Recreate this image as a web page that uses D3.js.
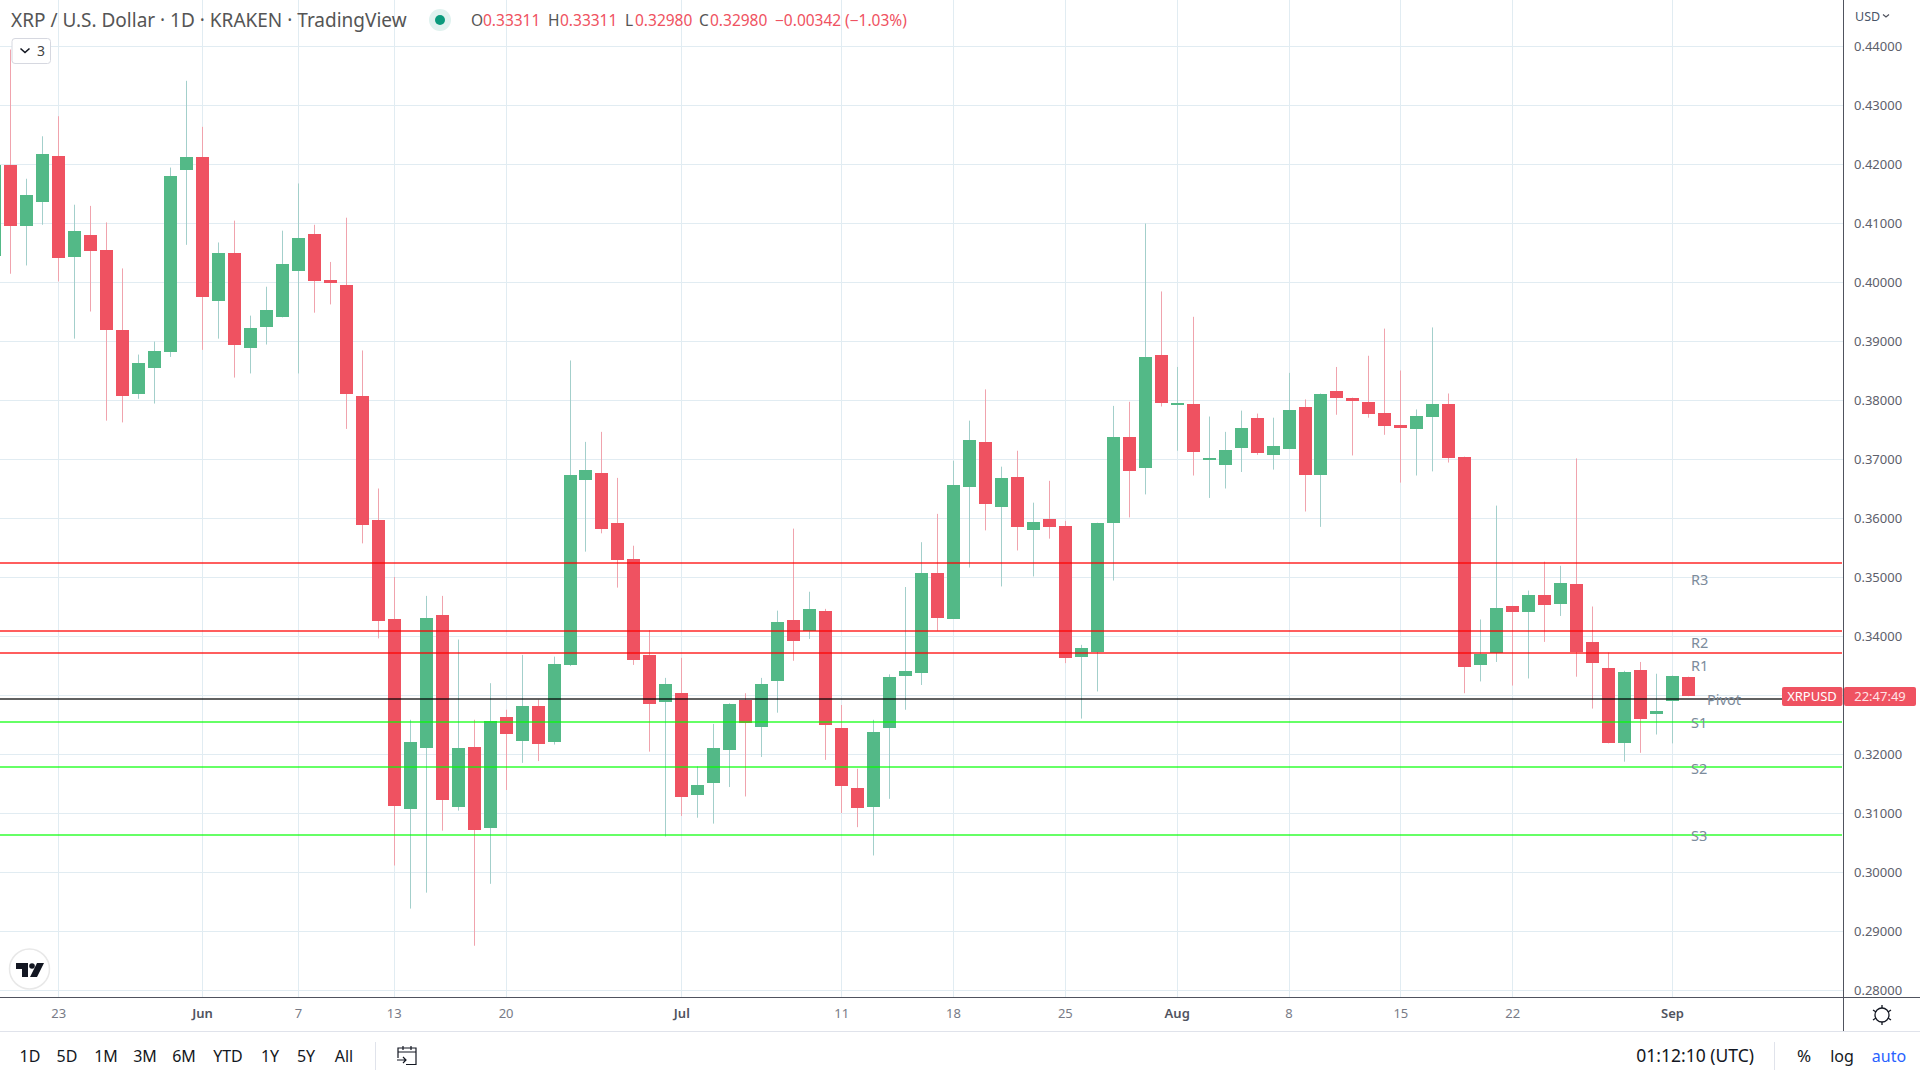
<!DOCTYPE html>
<html>
<head>
<meta charset="utf-8">
<script src="https://cdn.jsdelivr.net/npm/d3@7"></script>
<style>
  body { margin: 0; background: #fff; }
  text { font-family: "Noto Sans", sans-serif; }
</style>
</head>
<body>
<svg width="1920" height="1080"></svg>
<script>
// daily candles, first one is 19 May 2022
const firstDay = "2022-05-19";
const opens = [.4046,.4199,.4095,.4138,.4214,.4043,.4080,.4055,.3919,.3811,.3856,.3882,.4190,
  .4212,.3970,.4050,.3890,.3923,.3940,.4019,.4082,.4004,.3995,.3807,.3597,.3429,.3107,.3211,.3436,.3110,.3212,.3075,.3263,.3224,.3283,.3221,.3351,.3665,.3677,.3592,.3532,.3368,.3288,
  .3305,.3132,.3151,.3209,.3292,.3248,.3324,.3428,.3409,.3443,.3245,.3144,.3110,.3245,.3332,.3339,.3507,.3429,.3653,.3729,.3619,.3670,.3580,.3599,.3587,.3365,.3373,.3592,.3738,.3684,.3877,
  .3792,.3794,.3699,.3690,.3719,.3770,.3709,.3718,.3789,.3673,.3816,.3804,.3797,.3779,.3758,.3751,.3772,.3794,.3704,.3353,.3371,.3451,.3440,.3470,.3455,.3489,.3390,.3346,.3221,.3343,.3267,
  .3289,.33311];
const highs = [.4230,.4394,.4175,.4247,.4281,.4131,.4129,.4101,.4023,.3877,.3899,.4194,.4341,
  .4263,.4067,.4104,.3943,.3992,.4087,.4167,.4097,.4034,.4109,.3884,.3650,.3500,.3258,.3468,.3468,.3394,.3258,.3320,.3275,.3368,.3292,.3365,.3867,.3729,.3746,.3668,.3553,.3410,.3329,
  .3363,.3179,.3251,.3286,.3303,.3329,.3443,.3582,.3475,.3446,.3283,.3175,.3258,.3335,.3483,.3559,.3607,.3697,.3765,.3818,.3687,.3714,.3626,.3663,.3595,.3385,.3592,.3790,.3797,.4099,.3984,
  .3856,.3941,.3772,.3746,.3782,.3777,.3770,.3846,.3801,.3811,.3856,.3804,.3875,.3921,.3850,.3784,.3923,.3811,.3704,.3428,.3621,.3451,.3477,.3526,.3519,.3701,.3450,.3372,.3341,.3356,.3336,
  .3333,.33311];
const lows = [.3990,.4014,.4028,.4097,.4001,.3904,.3950,.3765,.3762,.3802,.3794,.3873,.4063,
  .3885,.3904,.3838,.3845,.3894,.3940,.3845,.3948,.3962,.3751,.3557,.3396,.3011,.2938,.2965,.3070,.3104,.2875,.2980,.3139,.3185,.3188,.3216,.3349,.3543,.3574,.3482,.3351,.3204,.3060,
  .3095,.3092,.3082,.3144,.3128,.3195,.3270,.3358,.3395,.3190,.3100,.3076,.3028,.3124,.3275,.3317,.3409,.3429,.3516,.3579,.3484,.3545,.3501,.3565,.3354,.3260,.3306,.3494,.3601,.3640,.3789,
  .3714,.3672,.3634,.3650,.3678,.3707,.3682,.3718,.3611,.3585,.3775,.3706,.3770,.3741,.3660,.3672,.3679,.3694,.3303,.3323,.3356,.3316,.3328,.3390,.3434,.3331,.3277,.3218,.3187,.3202,.3233,
  .3218,.32980];
const closes = [.4200,.4095,.4148,.4218,.4040,.4087,.4053,.3919,.3806,.3863,.3884,.4180,.4212,
  .3975,.4050,.3895,.3923,.3953,.4031,.4075,.4001,.3999,.3811,.3588,.3426,.3112,.3221,.3431,.3122,.3211,.3071,.3256,.3234,.3283,.3219,.3353,.3673,.3682,.3582,.3529,.3361,.3285,.3319,
  .3129,.3149,.3211,.3286,.3253,.3320,.3424,.3394,.3446,.3250,.3148,.3110,.3238,.3332,.3341,.3508,.3431,.3656,.3733,.3623,.3668,.3584,.3594,.3584,.3362,.3380,.3592,.3738,.3679,.3873,.3795,
  .3795,.3712,.3702,.3716,.3753,.3711,.3723,.3784,.3675,.3811,.3804,.3799,.3777,.3757,.3753,.3773,.3794,.3702,.3347,.3371,.3448,.3440,.3470,.3453,.3490,.3375,.3355,.3218,.3340,.3260,.3273,
  .3333,.32980];

const priceTicks = [.28,.29,.30,.31,.32,.33,.34,.35,.36,.37,.38,.39,.40,.41,.42,.43,.44];
const dateTicks = ["2022-05-23","2022-06-01","2022-06-07","2022-06-13","2022-06-20","2022-07-01","2022-07-11","2022-07-18","2022-07-25","2022-08-01","2022-08-08","2022-08-15","2022-08-22","2022-09-01"];

const pivotNames = ["R3","R2","R1","Pivot","S1","S2","S3"];
const pivotLevels = [.3525,.3409,.3372,.3294,.3255,.3179,.3063];

const legendLabels = ["O","H","L","C"];
const legendValues = ["0.33311","0.33311","0.32980","0.32980"];
const ranges = ["1D","5D","1M","3M","6M","YTD","1Y","5Y","All"];

const red = "#ef5261", green = "#53b987";
const svg = d3.select("svg");
const width = 1920, plotRight = 1843, plotBottom = 997;

const parse = d3.utcParse("%Y-%m-%d");
const x = d3.scaleUtc()
    .domain([parse("2022-06-01"), parse("2022-09-01")])
    .range([202, 1672]);
const y = d3.scaleLinear()
    .domain([.28, .44])
    .range([990, 46]);

// grid
svg.append("g").selectAll("line").data(dateTicks).enter().append("line")
    .attr("x1", d => Math.round(x(parse(d))) + .5)
    .attr("x2", d => Math.round(x(parse(d))) + .5)
    .attr("y1", 0).attr("y2", plotBottom)
    .attr("stroke", "#e1ecf2");
svg.append("g").selectAll("line").data(priceTicks).enter().append("line")
    .attr("x1", 0).attr("x2", plotRight)
    .attr("y1", d => Math.round(y(d)) + .5)
    .attr("y2", d => Math.round(y(d)) + .5)
    .attr("stroke", "#e1ecf2");

// candles
const candles = opens.map((o, i) => ({
    date: d3.utcDay.offset(parse(firstDay), i),
    open: o, high: highs[i], low: lows[i], close: closes[i]
}));
const up = d => d.close >= d.open;
const cx = d => Math.round(x(d.date));

svg.append("g").selectAll("line").data(candles).enter().append("line")
    .attr("x1", d => cx(d) + .5)
    .attr("x2", d => cx(d) + .5)
    .attr("y1", d => y(d.high))
    .attr("y2", d => y(d.low))
    .attr("stroke", d => up(d) ? "#a3cfcb" : "#f0a3ad");

svg.append("g").selectAll("rect").data(candles).enter().append("rect")
    .attr("x", d => cx(d) - 6)
    .attr("width", 13)
    .attr("y", d => Math.round(y(Math.max(d.open, d.close)) + .5))
    .attr("height", d => Math.max(2, Math.round(y(Math.min(d.open, d.close))) - Math.round(y(Math.max(d.open, d.close)))))
    .attr("fill", d => up(d) ? green : red);

// pivot lines
const lineColor = name => name == "Pivot" ? "rgba(0,0,0,.62)" : (name[0] == "R" ? "rgba(255,0,0,.63)" : "rgba(0,255,0,.6)");
const levelY = i => Math.round(y(pivotLevels[i]) + .5);
svg.append("g").selectAll("line").data(pivotNames).enter().append("line")
    .attr("x1", 0).attr("x2", plotRight - 1)
    .attr("y1", (d, i) => levelY(i))
    .attr("y2", (d, i) => levelY(i))
    .attr("stroke", lineColor)
    .attr("stroke-width", 2);

const labelShift = { R3: 17, R2: 12, R1: 13, Pivot: 1, S1: 1, S2: 2, S3: 1 };
svg.append("g").selectAll("text").data(pivotNames).enter().append("text")
    .attr("x", d => d == "Pivot" ? 1707 : 1691)
    .attr("y", (d, i) => levelY(i) + labelShift[d])
    .attr("dy", ".35em")
    .attr("font-size", 14.5)
    .attr("fill", "#7c8b9b")
    .text(d => d);

// axes
const yAxis = d3.axisRight(y).tickValues(priceTicks).tickSize(0).tickPadding(11).tickFormat(d3.format(".5f"));
const yg = svg.append("g").attr("transform", "translate(" + plotRight + ",0)").call(yAxis);
yg.select(".domain").remove();
yg.selectAll("text").attr("font-size", 13).attr("fill", "#5d606b").attr("font-family", '"Noto Sans", sans-serif');

const isMonth = d => d.getUTCDate() == 1;
const xAxis = d3.axisBottom(x).tickValues(dateTicks.map(parse)).tickSize(0).tickPadding(12)
    .tickFormat(d => isMonth(d) ? d3.utcFormat("%b")(d) : d3.utcFormat("%-d")(d));
const xg = svg.append("g").attr("transform", "translate(0," + plotBottom + ")").call(xAxis);
xg.select(".domain").remove();
xg.selectAll("text")
    .attr("font-size", 13)
    .attr("font-family", '"Noto Sans", sans-serif')
    .attr("font-weight", d => isMonth(d) ? 600 : 400)
    .attr("fill", d => isMonth(d) ? "#50535e" : "#787b86");

svg.append("line").attr("x1", 0).attr("x2", width).attr("y1", plotBottom + .5).attr("y2", plotBottom + .5).attr("stroke", "#50535e");
svg.append("line").attr("x1", plotRight + .5).attr("x2", plotRight + .5).attr("y1", 0).attr("y2", 1031).attr("stroke", "#50535e");
svg.append("line").attr("x1", 0).attr("x2", width).attr("y1", 1031.5).attr("y2", 1031.5).attr("stroke", "#e0e3eb");

// last price tags
const tagY = 687, tagH = 19;
svg.append("rect").attr("x", 1782).attr("y", tagY).attr("width", 60.5).attr("height", tagH).attr("rx", 2).attr("fill", red);
svg.append("rect").attr("x", 1844).attr("y", tagY).attr("width", 72).attr("height", tagH).attr("rx", 2).attr("fill", red);
svg.append("text").attr("x", 1812).attr("y", tagY + tagH / 2).attr("dy", ".35em").attr("text-anchor", "middle")
    .attr("font-size", 13).attr("fill", "#fff").text("XRPUSD");
svg.append("text").attr("x", 1880).attr("y", tagY + tagH / 2).attr("dy", ".35em").attr("text-anchor", "middle")
    .attr("font-size", 13).attr("fill", "#ffe3e6").text("22:47:49");

// header legend
svg.append("text").attr("x", 11).attr("y", 27).attr("font-size", 19).attr("fill", "#555")
    .text("XRP / U.S. Dollar · 1D · KRAKEN · TradingView");
svg.append("circle").attr("cx", 440).attr("cy", 20).attr("r", 11).attr("fill", "#e0f2ef");
svg.append("circle").attr("cx", 440).attr("cy", 20).attr("r", 5).attr("fill", "#0a9a7c");

const legendX = [471, 548, 625, 699], legendValueX = [483, 560, 635, 710];
legendLabels.forEach((d, i) => {
    svg.append("text").attr("x", legendX[i]).attr("y", 26).attr("font-size", 15.5).attr("fill", "#555").text(d);
    svg.append("text").attr("x", legendValueX[i]).attr("y", 26).attr("font-size", 15.5).attr("fill", red).text(legendValues[i]);
});
svg.append("text").attr("x", 775).attr("y", 26).attr("font-size", 15.5).attr("fill", red).text("−0.00342");
svg.append("text").attr("x", 845).attr("y", 26).attr("font-size", 15.5).attr("fill", red).text("(−1.03%)");

// collapsed indicators badge
svg.append("rect").attr("x", 12).attr("y", 38.5).attr("width", 38.5).attr("height", 25).attr("rx", 3).attr("fill", "#fff").attr("stroke", "#d6d8e0");
svg.append("path").attr("d", "M20.5 48.5l4.5 4 4.5-4").attr("fill", "none").attr("stroke", "#131722").attr("stroke-width", 1.6);
svg.append("text").attr("x", 37).attr("y", 56).attr("font-size", 14).attr("fill", "#444").text("3");

// tradingview badge
svg.append("circle").attr("cx", 29.5).attr("cy", 969).attr("r", 20).attr("fill", "#fff").attr("stroke", "#e8e8e8").attr("stroke-width", 1.5);
svg.append("path").attr("fill", "#131722").attr("d", "M16 963h12v14h-6v-8h-6zM37 963h7l-7 14h-7z");
svg.append("circle").attr("cx", 32).attr("cy", 966).attr("r", 2.8).attr("fill", "#131722");

// USD selector
svg.append("text").attr("x", 1855).attr("y", 21).attr("font-size", 12.5).attr("fill", "#4a5568").text("USD");
svg.append("path").attr("d", "M1883 14.5l3 2.5 3-2.5").attr("fill", "none").attr("stroke", "#50535e").attr("stroke-width", 1.2);

// settings gear
svg.append("circle").attr("cx", 1882).attr("cy", 1015).attr("r", 7).attr("fill", "none").attr("stroke", "#131722").attr("stroke-width", 1.3);
svg.append("path").attr("fill", "none").attr("stroke", "#131722").attr("stroke-width", 1.3)
    .attr("d", "M1882 1005v3M1882 1022v3M1873 1010l3 2M1888 1018l3 2M1873 1020l3-2M1888 1012l3-2");

// bottom toolbar
const rangeX = [30, 67, 106, 145, 184, 228, 270, 306, 344];
svg.append("g").selectAll("text").data(ranges).enter().append("text")
    .attr("x", (d, i) => rangeX[i]).attr("y", 1062)
    .attr("text-anchor", "middle").attr("font-size", 16).attr("fill", "#131722")
    .text(d => d);
svg.append("line").attr("x1", 375.5).attr("x2", 375.5).attr("y1", 1042).attr("y2", 1070).attr("stroke", "#e0e3eb");
svg.append("path").attr("fill", "none").attr("stroke", "#131722").attr("stroke-width", 1.2)
    .attr("d", "M398 1058v-10h18v16.500h-10M398 1052h18M403 1046v4M411 1046v4M397 1060h9M403 1057l3 3-3 3");

svg.append("text").attr("x", 1754).attr("y", 1062).attr("text-anchor", "end").attr("font-size", 17.5).attr("fill", "#131722").text("01:12:10 (UTC)");
svg.append("line").attr("x1", 1774.5).attr("x2", 1774.5).attr("y1", 1042).attr("y2", 1070).attr("stroke", "#e0e3eb");
svg.append("text").attr("x", 1804).attr("y", 1062).attr("text-anchor", "middle").attr("font-size", 17).attr("fill", "#131722").text("%");
svg.append("text").attr("x", 1842).attr("y", 1062).attr("text-anchor", "middle").attr("font-size", 16).attr("fill", "#131722").text("log");
svg.append("text").attr("x", 1889).attr("y", 1062).attr("text-anchor", "middle").attr("font-size", 16).attr("fill", "#2962ff").text("auto");
</script>
</body>
</html>
